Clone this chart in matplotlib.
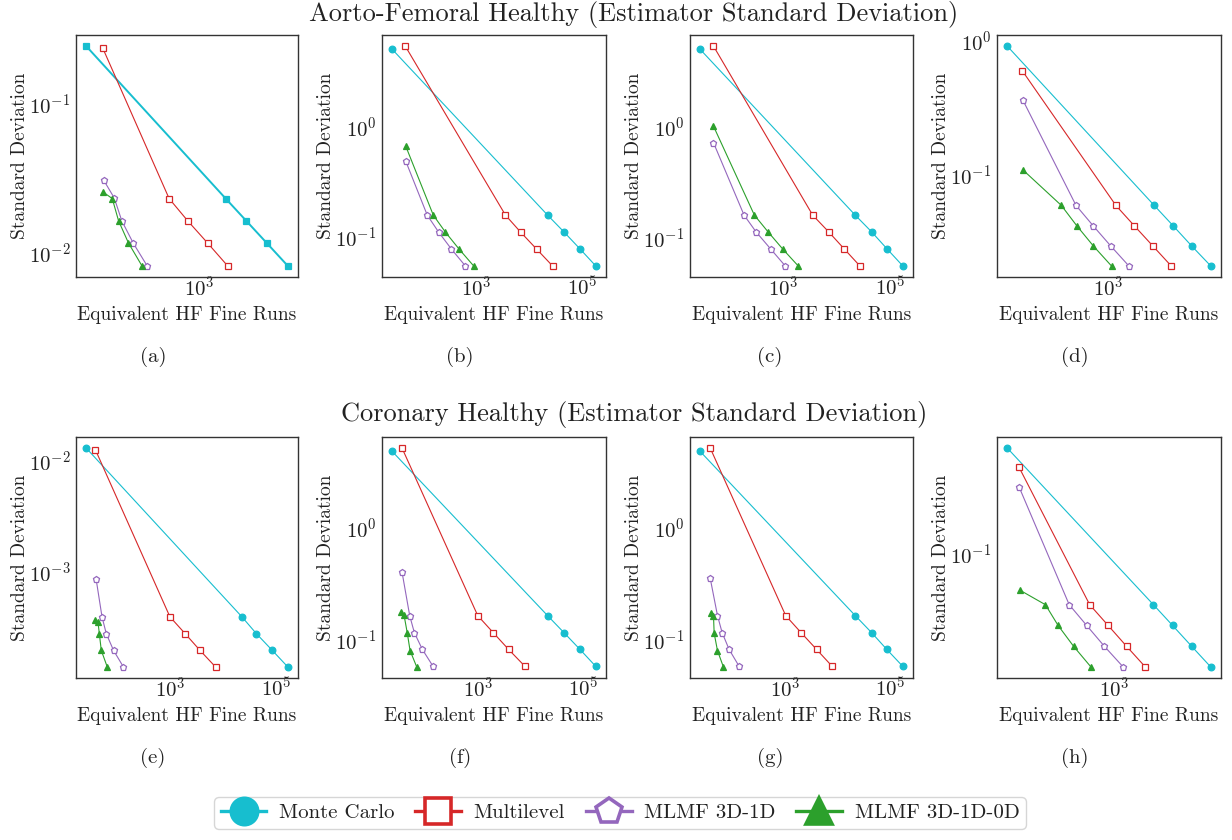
import matplotlib
matplotlib.use("Agg")
import matplotlib.pyplot as plt
from matplotlib.lines import Line2D
from matplotlib.ticker import FixedLocator, LogFormatterSciNotation, NullLocator

plt.rcParams.update({
    "font.family": "serif",
    "font.serif": ["cmr10"],
    "mathtext.fontset": "cm",
    "axes.formatter.use_mathtext": True,
    "axes.unicode_minus": True,
    "text.color": "#222222",
    "axes.labelcolor": "#222222",
    "xtick.color": "#222222",
    "ytick.color": "#222222",
    "axes.edgecolor": "#333333",
})

# equivalent HF fine runs (x) and estimator standard deviation (y)
# Aorto-Femoral Healthy
a_mc = ([22.8, 2425, 4820, 9550, 19400], [0.242, 0.0231, 0.0164, 0.01166, 0.00818])
a_ml = ([40, 366, 681, 1322, 2595], [0.233, 0.0231, 0.0164, 0.01166, 0.00818])
a_1d = ([41, 58.5, 75.2, 110, 176], [0.0307, 0.0233, 0.0164, 0.01166, 0.00818])
a_0d = ([40, 54.7, 67.5, 94, 148], [0.0256, 0.0231, 0.0164, 0.01166, 0.00818])

b_mc = ([27.4, 22100, 44800, 89300, 176000], [5.09, 0.158, 0.111, 0.0778, 0.0545])
b_ml = ([48, 3600, 6880, 13700, 27400], [5.45, 0.158, 0.111, 0.0778, 0.0545])
b_1d = ([49, 124, 202, 350, 641], [0.491, 0.158, 0.111, 0.0778, 0.0545])
b_0d = ([49, 161, 270, 487, 917], [0.672, 0.158, 0.111, 0.0778, 0.0545])

c_mc = ([27.4, 22400, 45500, 89300, 176000], [5.03, 0.160, 0.113, 0.079, 0.0555])
c_ml = ([48.7, 3560, 7100, 14000, 27500], [5.39, 0.160, 0.113, 0.079, 0.0555])
c_1d = ([48.7, 183, 307, 580, 1090], [0.723, 0.160, 0.113, 0.079, 0.0555])
c_0d = ([48.7, 286, 516, 975, 1910], [1.02, 0.160, 0.113, 0.079, 0.0555])

d_mc = ([24.4, 5450, 10900, 21700, 43700], [0.906, 0.059, 0.0417, 0.0294, 0.0209])
d_ml = ([42.5, 1330, 2610, 5200, 10200], [0.593, 0.059, 0.0417, 0.0294, 0.0209])
d_1d = ([43, 307, 575, 1105, 2150], [0.362, 0.059, 0.0417, 0.0294, 0.0209])
d_0d = ([43, 179, 315, 583, 1133], [0.109, 0.059, 0.0417, 0.0294, 0.0209])

# Coronary Healthy
e_mc = ([26.2, 22800, 42900, 85500, 168600], [0.01294, 0.000388, 0.000273, 0.000193, 0.0001365])
e_ml = ([39.2, 1000, 1940, 3700, 7290], [0.01248, 0.000388, 0.000273, 0.000193, 0.0001365])
e_1d = ([40.4, 52.3, 63, 86.3, 133], [0.000855, 0.000388, 0.000273, 0.000193, 0.0001365])
e_0d = ([39.2, 44, 46.6, 50.7, 65.8], [0.000360, 0.000345, 0.000273, 0.000193, 0.0001365])

f_mc = ([24, 21000, 42800, 86500, 172000], [4.8, 0.1636, 0.1154, 0.0815, 0.0575])
f_ml = ([36.8, 1000, 1960, 3850, 7870], [5.15, 0.1636, 0.1154, 0.0815, 0.0575])
f_1d = ([36.8, 51.5, 63, 89.6, 143], [0.403, 0.1636, 0.1154, 0.0815, 0.0575])
f_0d = ([35.6, 40.2, 46.4, 52.3, 70.1], [0.175, 0.166, 0.114, 0.0798, 0.0568])

g_mc = ([24.5, 21500, 43800, 85500, 172000], [4.8, 0.1636, 0.1154, 0.0815, 0.0575])
g_ml = ([38, 1030, 2010, 3980, 7870], [5.15, 0.1636, 0.1154, 0.0815, 0.0575])
g_1d = ([38, 52.3, 64, 87, 135], [0.354, 0.1636, 0.1154, 0.0815, 0.0575])
g_0d = ([39.2, 43.9, 45.2, 52.2, 67.8], [0.173, 0.1636, 0.114, 0.0798, 0.0568])

h_mc = ([20.7, 4150, 8300, 16600, 33200], [0.586, 0.0427, 0.0302, 0.0213, 0.01507])
h_ml = ([31.6, 412, 803, 1570, 3100], [0.427, 0.0427, 0.0302, 0.0213, 0.01507])
h_1d = ([32, 196, 369, 702, 1390], [0.304, 0.0427, 0.0302, 0.0213, 0.01507])
h_0d = ([32.7, 82.8, 131, 230, 432], [0.0545, 0.0427, 0.0302, 0.0213, 0.01507])

panels = [
    ("(a)", [a_mc, a_ml, a_1d, a_0d]),
    ("(b)", [b_mc, b_ml, b_1d, b_0d]),
    ("(c)", [c_mc, c_ml, c_1d, c_0d]),
    ("(d)", [d_mc, d_ml, d_1d, d_0d]),
    ("(e)", [e_mc, e_ml, e_1d, e_0d]),
    ("(f)", [f_mc, f_ml, f_1d, f_0d]),
    ("(g)", [g_mc, g_ml, g_1d, g_0d]),
    ("(h)", [h_mc, h_ml, h_1d, h_0d]),
]

names = ["Monte Carlo", "Multilevel", "MLMF 3D-1D", "MLMF 3D-1D-0D"]
colors = ["#17becf", "#d62728", "#9467bd", "#2ca02c"]
markers = ["o", "s", "p", "^"]
filled = [True, False, False, True]

x_ticks = [1e1, 1e3, 1e5, 1e7]
y_ticks = [1e-5, 1e-4, 1e-3, 1e-2, 1e-1, 1e0, 1e1]

W, H = 1232, 840
fig = plt.figure(figsize=(W / 100, H / 100), dpi=100)

cols_px = [(76, 298), (382, 606), (690, 913), (997, 1221)]
rows_px = [(35, 277), (437, 678)]
label_x = [153, 460, 770, 1075]
label_y = [357, 758]


def px_rect(x0, x1, y0, y1):
    return [x0 / W, 1 - y1 / H, (x1 - x0) / W, (y1 - y0) / H]


for i, (tag, series) in enumerate(panels):
    r, c = divmod(i, 4)
    ax = fig.add_axes(px_rect(*cols_px[c], *rows_px[r]))
    for k, (xs, ys) in enumerate(series):
        mk = markers[k]
        lw = 0.8
        if tag == "(a)" and k == 0:
            mk, lw = "s", 1.4
        ax.plot(xs, ys, marker=mk, color=colors[k], lw=lw, ms=4.8 if k != 2 else 4.6,
                mfc=colors[k] if filled[k] else "white", mec=colors[k], mew=0.9)
    ax.set_xscale("log")
    ax.set_yscale("log")
    ax.xaxis.set_major_locator(FixedLocator(x_ticks))
    ax.yaxis.set_major_locator(FixedLocator(y_ticks))
    ax.xaxis.set_major_formatter(LogFormatterSciNotation())
    ax.yaxis.set_major_formatter(LogFormatterSciNotation())
    ax.xaxis.set_minor_locator(NullLocator())
    ax.yaxis.set_minor_locator(NullLocator())
    ax.tick_params(which="both", length=0, labelsize=15)
    ax.tick_params(axis="x", pad=-1)
    ax.tick_params(axis="y", pad=4)
    ax.set_xlabel("Equivalent HF Fine Runs", fontsize=14, labelpad=4)
    ax.set_ylabel("Standard Deviation", fontsize=14, labelpad=0)
    for sp in ax.spines.values():
        sp.set_linewidth(1.0)
    fig.text(label_x[c] / W, 1 - label_y[r] / H, tag, fontsize=15, ha="center", va="center")

fig.text(634 / W, 1 - 14 / H, "Aorto-Femoral Healthy (Estimator Standard Deviation)",
         fontsize=19, ha="center", va="center")
fig.text(634 / W, 1 - 414 / H, "Coronary Healthy (Estimator Standard Deviation)",
         fontsize=19, ha="center", va="center")

handles = [
    Line2D([], [], color=colors[k], marker=markers[k], lw=2.4, ms=19, mew=2.6,
           mfc=colors[k] if filled[k] else "white", mec=colors[k])
    for k in range(4)
]
leg = fig.legend(handles, names, loc="center", bbox_to_anchor=(620 / W, 1 - 813 / H), ncol=4,
                 fontsize=15, frameon=True, fancybox=True, handlelength=2.2,
                 columnspacing=1.0, handletextpad=0.6, borderpad=0.3)
leg.get_frame().set_edgecolor("#cccccc")
leg.get_frame().set_linewidth(1.0)

fig.savefig("out.png", dpi=100)
